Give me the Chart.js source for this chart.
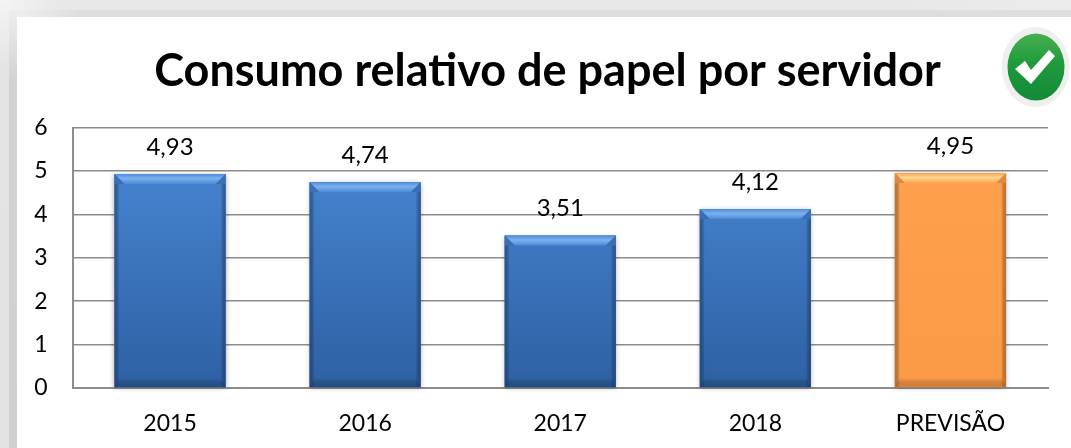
<!DOCTYPE html>
<html><head><meta charset="utf-8">
<script src="https://cdn.jsdelivr.net/npm/chart.js@4"></script>
<style>
html,body{margin:0;padding:0;width:1071px;height:448px;overflow:hidden;background:#e8e8e8}
#rowA{position:absolute;left:0;top:0;width:1071px;height:10px;background:linear-gradient(90deg,#f4f4f4 0,#e8e8e8 60px,#e8e8e8 900px,#ececec 100%)}
#rowB{position:absolute;left:0;top:10px;width:1071px;height:7px;background:linear-gradient(90deg,#f2f2f2 0,#dedede 80px,#dedede 100%)}
#colA{position:absolute;left:0;top:0;width:9px;height:448px;background:linear-gradient(180deg,#f4f4f4 0,#e4e4e4 70px,#e2e2e2 100%)}
#colB{position:absolute;left:9px;top:10px;width:8px;height:438px;background:linear-gradient(180deg,#eeeeee 0,#d2d2d2 70px,#d0d0d0 100%)}
#panel{position:absolute;left:17px;top:17px;width:1054px;height:431px;background:#fff}
#wrap{position:absolute;left:24px;top:0;width:1047px;height:448px}
#icon{position:absolute;left:1000px;top:26px;width:71px;height:83px}
</style></head><body>
<div id="rowA"></div><div id="rowB"></div><div id="colA"></div><div id="colB"></div><div id="panel"></div>
<div id="wrap"><canvas id="c" width="1047" height="448"></canvas></div>
<svg id="icon" viewBox="0 0 71 83">
<defs><linearGradient id="g" x1="0" y1="0" x2="0" y2="1"><stop offset="0" stop-color="#45b04f"/><stop offset=".45" stop-color="#1f9a3c"/><stop offset="1" stop-color="#128a38"/></linearGradient></defs>
<ellipse cx="35.5" cy="41" rx="34" ry="40" fill="#efefef"/>
<ellipse cx="36" cy="41" rx="28.5" ry="33.5" fill="url(#g)"/>
<path d="M15 43 L25 35 L31 44 L49 24 L55 30 L31 58 Z" fill="#fff"/>
</svg>
<script>
const categories=["2015","2016","2017","2018","PREVISÃO"];
const values=[4.93,4.74,3.51,4.12,4.95];
const labels=["4,93","4,74","3,51","4,12","4,95"];
const titleText="Consumo relativo de papel por servidor";
const FONT='Lato, Carlito, sans-serif';
const BLUE={a:"#4a8ad8",b:"#2e60a3",e1:"#4f8dda",hi:"#7ab2ee",side:"rgba(30,65,115,0.6)",bot:"rgba(30,65,115,0.5)",corner:"#3a6fb4"};
const ORANGE={a:"#ffa14e",b:"#fb9a47",e1:"#fda14f",hi:"#ffd98f",side:"rgba(165,95,40,0.65)",bot:"rgba(190,110,45,0.5)",corner:"#d98a45"};
const palette=[BLUE,BLUE,BLUE,BLUE,ORANGE];

const barPlugin={id:'bevelLabels',
 afterLayout(chart){chart.scales.y.left=0;},
 beforeDatasetsDraw(chart){
  const ctx=chart.ctx;
  chart.getDatasetMeta(0).data.forEach(b=>{
   ctx.save();ctx.shadowColor='rgba(0,0,0,.35)';ctx.shadowBlur=5;ctx.shadowOffsetY=1;ctx.fillStyle='#888';
   ctx.fillRect(b.x-b.width/2,b.y,b.width,b.base-b.y);ctx.restore();
  });
 },
 afterDatasetsDraw(chart){
  const ctx=chart.ctx,meta=chart.getDatasetMeta(0);
  meta.data.forEach((b,i)=>{
   const l=b.x-b.width/2,r=b.x+b.width/2,t=b.y,bt=b.base,d=10,p=palette[i];
   const poly=(pts,col)=>{ctx.beginPath();pts.forEach((q,k)=>k?ctx.lineTo(q[0],q[1]):ctx.moveTo(q[0],q[1]));ctx.closePath();ctx.fillStyle=col;ctx.fill();};
   let g=ctx.createLinearGradient(0,t,0,t+d);
   g.addColorStop(0,p.e1);g.addColorStop(.45,p.hi);g.addColorStop(1,p.a);
   poly([[l,t],[r,t],[r-d,t+d],[l+d,t+d]],g);
   poly([[l,t],[l+d,t+d],[l,t+d]],p.corner);
   poly([[r,t],[r-d,t+d],[r,t+d]],p.corner);
   g=ctx.createLinearGradient(l,0,l+5,0);g.addColorStop(0,p.side);g.addColorStop(1,'rgba(0,0,0,0)');
   ctx.fillStyle=g;ctx.fillRect(l,t+d,5,bt-t-d);
   g=ctx.createLinearGradient(r,0,r-5,0);g.addColorStop(0,p.side);g.addColorStop(1,'rgba(0,0,0,0)');
   ctx.fillStyle=g;ctx.fillRect(r-5,t+d,5,bt-t-d);
   g=ctx.createLinearGradient(0,bt,0,bt-9);g.addColorStop(0,p.bot);g.addColorStop(1,'rgba(0,0,0,0)');
   poly([[l,bt],[l+5,bt-9],[r-5,bt-9],[r,bt]],g);
   ctx.fillStyle='#000';ctx.font='24px '+FONT;ctx.textAlign='center';ctx.textBaseline='middle';
   ctx.fillText(labels[i],b.x,b.y-27);
  });
 }};

const el=document.getElementById('c');
const c2=el.getContext('2d');
c2.letterSpacing='0.01px';c2.textRendering='geometricPrecision';

new Chart(el,{
 type:'bar',
 data:{labels:categories,datasets:[{data:values,
  backgroundColor(c){const a=c.chart.chartArea,p=palette[c.dataIndex];if(!a)return p.a;
   const g=c.chart.ctx.createLinearGradient(0,a.top,0,a.bottom);
   g.addColorStop(0,p.a);g.addColorStop(1,p.b);return g;},
  barPercentage:.57,categoryPercentage:1}]},
 options:{responsive:false,animation:false,
  layout:{padding:{left:23,right:23,top:0,bottom:0}},
  plugins:{legend:{display:false},tooltip:{enabled:false},
   title:{display:true,text:titleText,color:'#000',font:{family:FONT,size:45,weight:'bold'},padding:{top:44,bottom:29.5}}},
  scales:{
   x:{grid:{display:false,drawTicks:false},border:{color:'#8c8c8c',width:2},
      ticks:{color:'#000',font:{family:FONT,size:23},padding:22,maxRotation:0},
      afterFit(s){s.height=60;}},
   y:{min:0,max:6,grid:{color:'#8c8c8c',lineWidth:1.6,drawTicks:false},border:{color:'#8c8c8c',width:2},
      ticks:{stepSize:1,color:'#000',font:{family:FONT,size:23},padding:25},
      afterFit(s){s.width=25.5;}}
  }},
 plugins:[barPlugin]
});
</script></body></html>
